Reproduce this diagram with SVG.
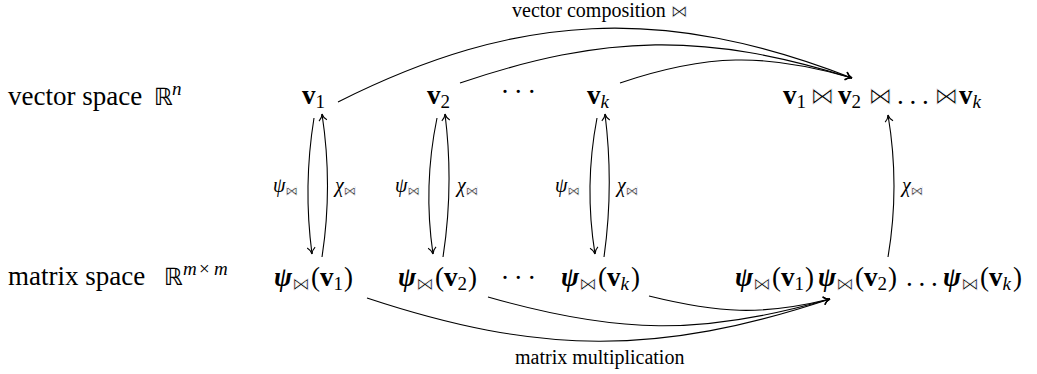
<svg xmlns="http://www.w3.org/2000/svg" width="1037" height="374" viewBox="0 0 1037 374">
<defs>
<style>
text{font-family:"Liberation Serif","DejaVu Serif",serif;fill:#000}
.L{font-size:27px}
.lab{font-size:20px}
.b{font-weight:bold}
.i{font-style:italic}
.bi{font-style:italic;font-weight:bold}
.s{font-family:"DejaVu Sans",sans-serif;font-size:24px;font-weight:normal;font-style:normal;stroke:#fff;stroke-width:0.8px}
.r{font-family:"DejaVu Sans",sans-serif;font-size:24px;font-weight:normal;font-style:normal}
.ss{font-family:"DejaVu Sans",sans-serif;font-size:18px;font-weight:normal;font-style:normal;stroke:#fff;stroke-width:0.6px}
.sl{font-family:"DejaVu Sans",sans-serif;font-size:13px;font-weight:normal;font-style:normal;stroke:#fff;stroke-width:0.45px}
.st{font-family:"DejaVu Sans",sans-serif;font-size:17px;font-weight:normal;font-style:normal;stroke:#fff;stroke-width:0.55px}
.sub{font-size:19px}
.edge{fill:none;stroke:#000;stroke-width:1.1;marker-end:url(#to)}
</style>
<marker id="to" markerUnits="userSpaceOnUse" markerWidth="10" markerHeight="12" viewBox="-8 -6 10 12" refX="0" refY="0" orient="auto" overflow="visible">
<path d="M-6.5,-4 C-4.5,-1.5 -1.8,-0.3 0,0 C-1.8,0.3 -4.5,1.5 -6.5,4" fill="none" stroke="#000" stroke-width="1.1"/>
</marker>
</defs>

<g id="connectors">
<path class="edge" d="M338,102 C518,11.5 664,5 852,78"/>
<path class="edge" d="M460,83 C605,34 705,32 852,78"/>
<path class="edge" d="M620,83 C706,54 765,52.5 852,78"/>
<path class="edge" d="M367,298 C539,355 658,356 830,299"/>
<path class="edge" d="M488,297 C617,334 701,336 830,299"/>
<path class="edge" d="M649,296 C718,313 761,316 830,299"/>
<path class="edge" d="M314,118 Q303,186 312,254"/>
<path class="edge" d="M322,257 Q333,186 322,114"/>
<path class="edge" d="M437,118 Q423,186 433,254"/>
<path class="edge" d="M443,257 Q454,186 445,114"/>
<path class="edge" d="M597,118 Q584,186 595,254"/>
<path class="edge" d="M604,257 Q614,186 605,114"/>
<path class="edge" d="M888,257 Q900,186 888,115"/>
</g>

<g id="edge-labels">
<text class="lab" x="512" y="17">vector composition <tspan class="st">⋈</tspan></text>
<text class="lab" x="515" y="364">matrix multiplication</text>
<text class="lab" x="273" y="192"><tspan class="i">ψ</tspan><tspan class="sl" dy="3">⋈</tspan></text>
<text class="lab" x="335" y="192"><tspan class="i">χ</tspan><tspan class="sl" dy="3">⋈</tspan></text>
<text class="lab" x="395" y="192"><tspan class="i">ψ</tspan><tspan class="sl" dy="3">⋈</tspan></text>
<text class="lab" x="457" y="192"><tspan class="i">χ</tspan><tspan class="sl" dy="3">⋈</tspan></text>
<text class="lab" x="555" y="192"><tspan class="i">ψ</tspan><tspan class="sl" dy="3">⋈</tspan></text>
<text class="lab" x="617" y="192"><tspan class="i">χ</tspan><tspan class="sl" dy="3">⋈</tspan></text>
<text class="lab" x="902" y="192"><tspan class="i">χ</tspan><tspan class="sl" dy="3">⋈</tspan></text>
</g>

<g id="row-label-vector">
<text class="L" x="8" y="105">vector space</text>
<text class="r" x="154" y="105">ℝ</text>
<text class="i sub" x="172" y="95">n</text>
</g>

<g id="row-label-matrix">
<text class="L" x="8" y="285">matrix space</text>
<text class="r" x="164" y="285">ℝ</text>
<text class="sub" y="275"><tspan class="i" x="183">m</tspan><tspan x="199">×</tspan><tspan class="i" x="214">m</tspan></text>
</g>

<g id="node-v1"><text class="L" x="302" y="104"><tspan class="b">v</tspan><tspan class="sub" dy="4">1</tspan></text></g>
<g id="node-v2"><text class="L" x="427" y="104"><tspan class="b">v</tspan><tspan class="sub" dy="4">2</tspan></text></g>
<g id="node-vdots"><text class="L" text-anchor="middle" y="101"><tspan x="505">·</tspan><tspan x="518.3">·</tspan><tspan x="531.7">·</tspan></text></g>
<g id="node-vk"><text class="L" x="587" y="104"><tspan class="b">v</tspan><tspan class="sub i" dy="4">k</tspan></text></g>
<g id="node-vcomp"><text class="L" y="104"><tspan x="783" class="b">v</tspan><tspan class="sub" dy="4">1</tspan><tspan x="810" class="s" dy="-4">⋈</tspan><tspan x="838" class="b">v</tspan><tspan class="sub" dy="4">2</tspan><tspan x="868" class="s" dy="-4">⋈</tspan><tspan x="897">.</tspan><tspan x="909.5">.</tspan><tspan x="922">.</tspan><tspan x="934" class="s">⋈</tspan><tspan x="959" class="b">v</tspan><tspan class="sub i" dy="4">k</tspan></text></g>

<g id="node-psi1"><text class="L" x="274" y="286"><tspan class="bi">ψ</tspan><tspan class="ss" dy="4">⋈</tspan><tspan dy="-4" dx="1">(</tspan><tspan class="b">v</tspan><tspan class="sub" dy="4">1</tspan><tspan dy="-4" dx="1">)</tspan></text></g>
<g id="node-psi2"><text class="L" x="398" y="286"><tspan class="bi">ψ</tspan><tspan class="ss" dy="4">⋈</tspan><tspan dy="-4" dx="1">(</tspan><tspan class="b">v</tspan><tspan class="sub" dy="4">2</tspan><tspan dy="-4" dx="1">)</tspan></text></g>
<g id="node-psidots"><text class="L" text-anchor="middle" y="287"><tspan x="505">·</tspan><tspan x="518.3">·</tspan><tspan x="531.7">·</tspan></text></g>
<g id="node-psik"><text class="L" x="561" y="286"><tspan class="bi">ψ</tspan><tspan class="ss" dy="4">⋈</tspan><tspan dy="-4" dx="1">(</tspan><tspan class="b">v</tspan><tspan class="sub i" dy="4">k</tspan><tspan dy="-4" dx="2">)</tspan></text></g>
<g id="node-psiprod"><text class="L" y="286"><tspan x="735" class="bi">ψ</tspan><tspan class="ss" dy="4">⋈</tspan><tspan dy="-4" dx="1">(</tspan><tspan class="b">v</tspan><tspan class="sub" dy="4">1</tspan><tspan dy="-4" dx="1">)</tspan><tspan x="818" class="bi">ψ</tspan><tspan class="ss" dy="4">⋈</tspan><tspan dy="-4" dx="1">(</tspan><tspan class="b">v</tspan><tspan class="sub" dy="4">2</tspan><tspan dy="-4" dx="1">)</tspan><tspan x="906">.</tspan><tspan x="918.5">.</tspan><tspan x="931">.</tspan><tspan x="943" class="bi">ψ</tspan><tspan class="ss" dy="4">⋈</tspan><tspan dy="-4" dx="1">(</tspan><tspan class="b">v</tspan><tspan class="sub i" dy="4">k</tspan><tspan dy="-4" dx="2">)</tspan></text></g>
</svg>
